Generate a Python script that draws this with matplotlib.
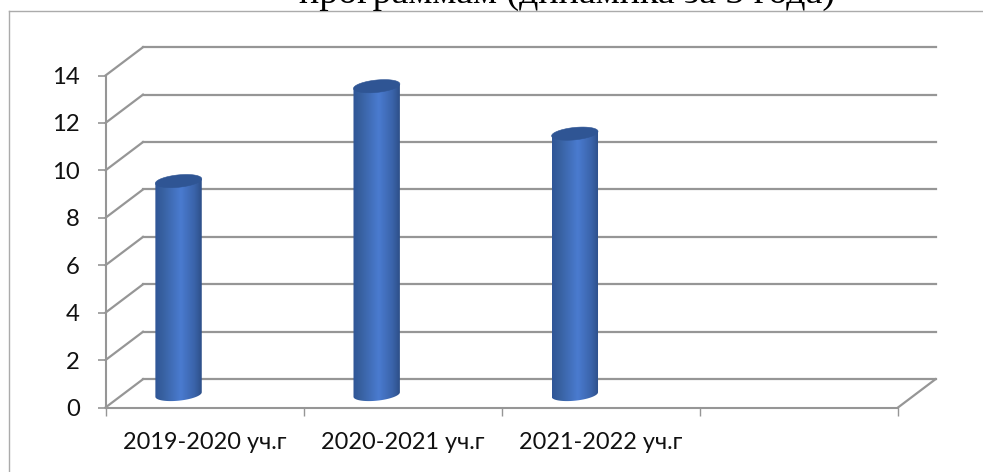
import numpy as np
import matplotlib
matplotlib.use('Agg')
import matplotlib.pyplot as plt
from matplotlib.colors import LinearSegmentedColormap
from matplotlib.path import Path
from matplotlib.patches import PathPatch
from matplotlib.transforms import ScaledTranslation

title = "программам (динамика за 3 года)"
categories = ["2019-2020 уч.г", "2020-2021 уч.г", "2021-2022 уч.г"]
values = [9, 13, 11]
y_ticks = [0, 2, 4, 6, 8, 10, 12, 14]
n_slots = 4

W, H = 983, 472
dpi = 100
grid_color = '#969696'
frame_color = '#ababab'
label_font = ['Lato', 'Open Sans']

fig = plt.figure(figsize=(W / dpi, H / dpi), dpi=dpi)
# front plane of the fake 3d box, in pixels
left, right, top, bottom = 105.5, 898, 75.5, 407.5
ax = fig.add_axes([left / W, 1 - bottom / H, (right - left) / W, (bottom - top) / H])
ax.set_xlim(0, n_slots)
ax.set_ylim(0, 14)
ax.patch.set_visible(False)

for s in ['top', 'right']:
    ax.spines[s].set_visible(False)
for s in ['left', 'bottom']:
    ax.spines[s].set_color(grid_color)
    ax.spines[s].set_linewidth(1.5)

ax.set_yticks(y_ticks)
ax.set_xticks(range(n_slots + 1))
ax.set_xticklabels([])
ax.set_xticks(np.arange(len(categories)) + 0.5, minor=True)
ax.set_xticklabels(categories, minor=True, fontsize=16.9, family=label_font, color='#111111')
ax.tick_params(axis='x', which='major', length=6, width=1, color=grid_color)
ax.tick_params(axis='x', which='minor', length=0, pad=17.5)
ax.tick_params(axis='y', length=6, width=1.2, color=grid_color, pad=12.5,
               labelsize=17.2, labelcolor='#111111')
for lab in ax.get_yticklabels():
    lab.set_family(label_font)

# back wall gridlines
back = ax.transData + ScaledTranslation(37.5 / dpi, 28.3 / dpi, fig.dpi_scale_trans)
for v in y_ticks:
    ax.plot([0, n_slots], [v, v], color=grid_color, lw=1.6, transform=back, clip_on=False, zorder=1)

# diagonals: from front point to back point
px_x = n_slots / (right - left)
px_y = 14 / (bottom - top)
for v in y_ticks:
    ax.plot([0, 37.5 * px_x], [v, v + 28.3 * px_y], color=grid_color, lw=1.6, clip_on=False, zorder=1)
ax.plot([n_slots, n_slots + 37.5 * px_x], [0, 28.3 * px_y], color=grid_color, lw=1.6, clip_on=False, zorder=1)

# cylinders
bar_shift = ax.transData + ScaledTranslation(-26 / dpi, 13 / dpi, fig.dpi_scale_trans)
a = 23.2 * px_x
b = 6.2 * px_y
tilt = np.tan(np.radians(5.5)) * (a / px_x) * px_y
body_cmap = LinearSegmentedColormap.from_list('body', [
    (0.0, '#2f5597'), (0.15, '#37609f'), (0.55, '#4a7bd0'), (0.85, '#3a63a9'), (1.0, '#2d4f88')])
grad = np.linspace(0, 1, 128).reshape(1, -1)
t = np.linspace(0, 2 * np.pi, 80)

for i, v in enumerate(values):
    xc = i + 0.5
    arc = t[(t >= np.pi)]
    xs = xc + a * np.cos(arc)
    ys = b * np.sin(arc) + tilt * np.cos(arc)
    verts = [(xc - a, v - tilt)] + list(zip(xs, ys)) + [(xc + a, v + tilt), (xc - a, v - tilt)]
    clip = PathPatch(Path(verts), transform=bar_shift, fc='none', ec='none', zorder=3)
    ax.add_patch(clip)
    im = ax.imshow(grad, cmap=body_cmap, aspect='auto', zorder=3, interpolation='bilinear',
                   extent=(xc - a, xc + a, -2, v + 2))
    im.set_transform(bar_shift)
    im.set_clip_path(clip)
    top_x = xc + a * np.cos(t)
    top_y = v + b * np.sin(t) + tilt * np.cos(t)
    ax.fill(top_x, top_y, color='#2f5594', lw=0.4, transform=bar_shift, zorder=4, clip_on=False)

ax.set_xlim(0, n_slots)
ax.set_ylim(0, 14)

# chart frame, only left and top edges are visible
fig.add_artist(plt.Line2D([8.5 / W, 8.5 / W], [0, 1 - 10.5 / H], color=frame_color, lw=1))
fig.add_artist(plt.Line2D([8.5 / W, 1], [1 - 10.5 / H, 1 - 10.5 / H], color=frame_color, lw=1))

fig.text(567 / W, 1 - 3 / H, title, family='Liberation Serif', fontsize=27.3, color='black',
         ha='center', va='baseline')

fig.savefig('out.png', dpi=dpi, facecolor='white')
